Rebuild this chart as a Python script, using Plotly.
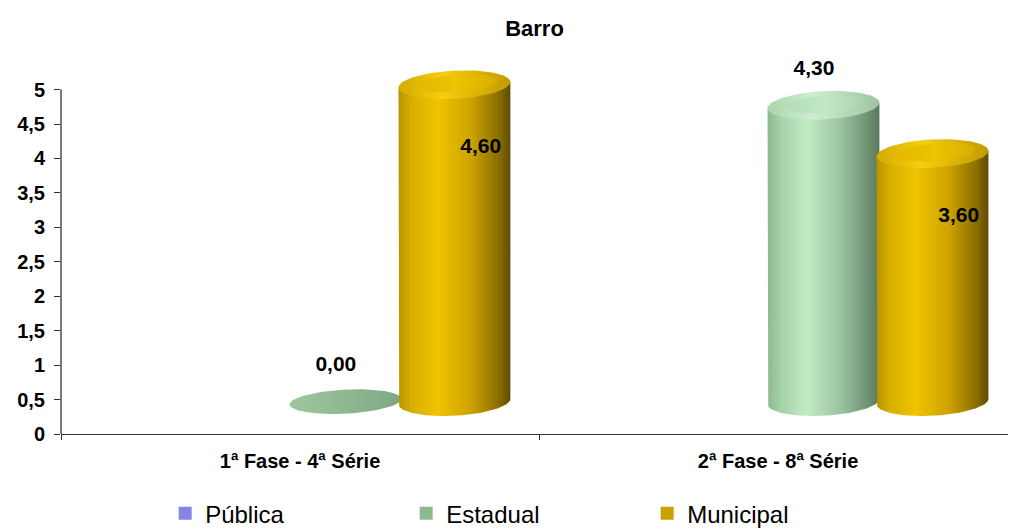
import numpy as np
import plotly.graph_objects as go

# ---- data -------------------------------------------------------------
categories = ["1ª Fase - 4ª Série", "2ª Fase - 8ª Série"]
series_names = ["Pública", "Estadual", "Municipal"]
publica = [None, None]
estadual = [0.00, 4.30]
municipal = [4.60, 3.60]
y_tick_values = [0, 0.5, 1, 1.5, 2, 2.5, 3, 3.5, 4, 4.5, 5]
y_tick_labels = ["0", "0,5", "1", "1,5", "2", "2,5", "3", "3,5", "4", "4,5", "5"]

series_values = [publica, estadual, municipal]

# ---- styling ----------------------------------------------------------
legend_colors = ["#8484E8", "#8CBA8F", "#C9A200"]
body_scales = [
    [[0, "#7070D0"], [0.3, "#A0A0FF"], [1, "#40407A"]],
    [[0, "#8DB890"], [0.12, "#A6D2A9"], [0.35, "#C0EBC3"], [0.65, "#9CC49F"],
     [0.9, "#6E9171"], [1, "#5A7A5D"]],
    [[0, "#B89300"], [0.12, "#D9AF00"], [0.35, "#F0C400"], [0.65, "#CDA200"],
     [0.9, "#8A6C00"], [1, "#5E4A00"]],
]
cap_scales = [
    [[0, "#9090F0"], [1, "#6060C0"]],
    [[0, "#A9D4AC"], [0.4, "#CDEFD0"], [1, "#9DC4A0"]],
    [[0, "#D4AB00"], [0.4, "#F6CE12"], [1, "#C29A00"]],
]
cap_inner_scales = [
    [[0, "#8080E0"], [1, "#5050B0"]],
    [[0, "#B3DCB6"], [0.5, "#C3E8C6"], [1, "#A9D0AC"]],
    [[0, "#E3B800"], [0.5, "#EEC300"], [1, "#D8AE00"]],
]
flat_scale = [[0, "#9CC79F"], [0.5, "#8DB890"], [1, "#7FA882"]]

GROUP_SHIFT = 0.095   # 3D offset of the bar group from the category centre
SLOT = 0.228          # distance between neighbouring cylinders
RX = 0.117            # cylinder radius (x units)
RY = 0.205            # ellipse half-height (y units)
LIFT = 0.47           # floor lift of the 3D projection (y units)
TILT = 0.04           # slight perspective tilt of the ellipses

label_offsets = {  # (dx, dy) of value labels per series
    1: (-0.02, 0.99),
    2: (0.055, -0.45),
}


def ellipse(cx, cy, rx, ry, t0=0.0, t1=2 * np.pi, n=80):
    t = np.linspace(t0, t1, n)
    xs = cx + rx * np.cos(t)
    ys = cy + ry * np.sin(t) + TILT * np.cos(t)
    return xs, ys


fig = go.Figure()

for si, vals in enumerate(series_values):
    for ci, v in enumerate(vals):
        if v is None:
            continue
        cx = ci + GROUP_SHIFT + (si - 1) * SLOT
        yb = LIFT
        yt = LIFT + v
        if v > 0:
            # body: left side, front half of base ellipse, right side
            bx, by = ellipse(cx, yb, RX, RY, np.pi, 2 * np.pi)
            xs = np.concatenate([[cx - RX], bx, [cx + RX, cx + RX, cx - RX]])
            ys = np.concatenate([[yt], by, [yt + TILT, yt + TILT, yt - TILT]])
            fig.add_trace(go.Scatter(
                x=xs, y=ys, fill="toself", mode="lines",
                line=dict(width=0), hoverinfo="skip", showlegend=False,
                fillgradient=dict(type="horizontal", colorscale=body_scales[si]),
            ))
            # top cap with rim
            tx, ty = ellipse(cx, yt, RX, RY)
            fig.add_trace(go.Scatter(
                x=tx, y=ty, fill="toself", mode="lines",
                line=dict(width=0), hoverinfo="skip", showlegend=False,
                fillgradient=dict(type="horizontal", colorscale=cap_scales[si]),
            ))
            ix, iy = ellipse(cx + 0.005, yt + 0.02, RX * 0.72, RY * 0.62)
            fig.add_trace(go.Scatter(
                x=ix, y=iy, fill="toself", mode="lines",
                line=dict(width=0), hoverinfo="skip", showlegend=False,
                fillgradient=dict(type="horizontal", colorscale=cap_inner_scales[si]),
            ))
        else:
            fx, fy = ellipse(cx, yb, RX, RY * 0.85)
            fig.add_trace(go.Scatter(
                x=fx, y=fy, fill="toself", mode="lines",
                line=dict(width=0), hoverinfo="skip", showlegend=False,
                fillgradient=dict(type="horizontal", colorscale=flat_scale),
            ))

# value labels
for si, vals in enumerate(series_values):
    if si not in label_offsets:
        continue
    dx, dy = label_offsets[si]
    lx, ly, lt = [], [], []
    for ci, v in enumerate(vals):
        if v is None:
            continue
        lx.append(ci + GROUP_SHIFT + (si - 1) * SLOT + dx)
        ly.append(v + dy)
        lt.append(f"{v:.2f}".replace(".", ","))
    fig.add_trace(go.Scatter(
        x=lx, y=ly, text=lt, mode="text", cliponaxis=False,
        textfont=dict(family="Liberation Sans, Arial", size=21, color="black", weight="bold"),
        hoverinfo="skip", showlegend=False,
    ))

# legend entries
for si, name in enumerate(series_names):
    fig.add_trace(go.Scatter(
        x=[None], y=[None], mode="markers", name=name,
        marker=dict(symbol="square", size=13, color=legend_colors[si]),
    ))

# y axis line from 0 to 5 only
fig.add_shape(type="line", xref="paper", yref="y", x0=0, x1=0,
              y0=0, y1=y_tick_values[-1], line=dict(color="#333333", width=1.3))

fig.update_layout(
    width=1009, height=529,
    margin=dict(l=61, r=1, t=62, b=95, autoexpand=False),
    paper_bgcolor="white", plot_bgcolor="white",
    font=dict(family="Liberation Sans, Arial", color="black"),
    title=dict(text="Barro", x=0.5, xref="paper", xanchor="center",
               y=1 - 28 / 529, yanchor="middle",
               font=dict(size=22, weight="bold", color="black")),
    xaxis=dict(
        range=[-0.5, 1.481], showgrid=False, zeroline=False,
        showline=True, linecolor="#333333", linewidth=1.3,
        tickvals=[0, 1], ticktext=categories, ticks="",
        ticklabelstandoff=9,
        tickfont=dict(size=20, weight="bold", color="black"),
        minor=dict(tickvals=[-0.5, 0.5], ticks="outside", ticklen=5,
                   tickcolor="#333333", tickwidth=1),
        fixedrange=True,
    ),
    yaxis=dict(
        range=[0, 5.4], showgrid=False, zeroline=False, showline=False,
        tickvals=y_tick_values, ticktext=y_tick_labels,
        ticks="outside", ticklen=6, tickcolor="#333333",
        ticklabelstandoff=5,
        tickfont=dict(size=20, weight="bold", color="black"),
        fixedrange=True,
    ),
    showlegend=True,
    legend=dict(
        orientation="h", x=0.11, xanchor="left", y=-0.214, yanchor="middle",
        entrywidth=196, entrywidthmode="pixels",
        font=dict(size=24, color="black"),
    ),
)

fig.write_html("out.html")
